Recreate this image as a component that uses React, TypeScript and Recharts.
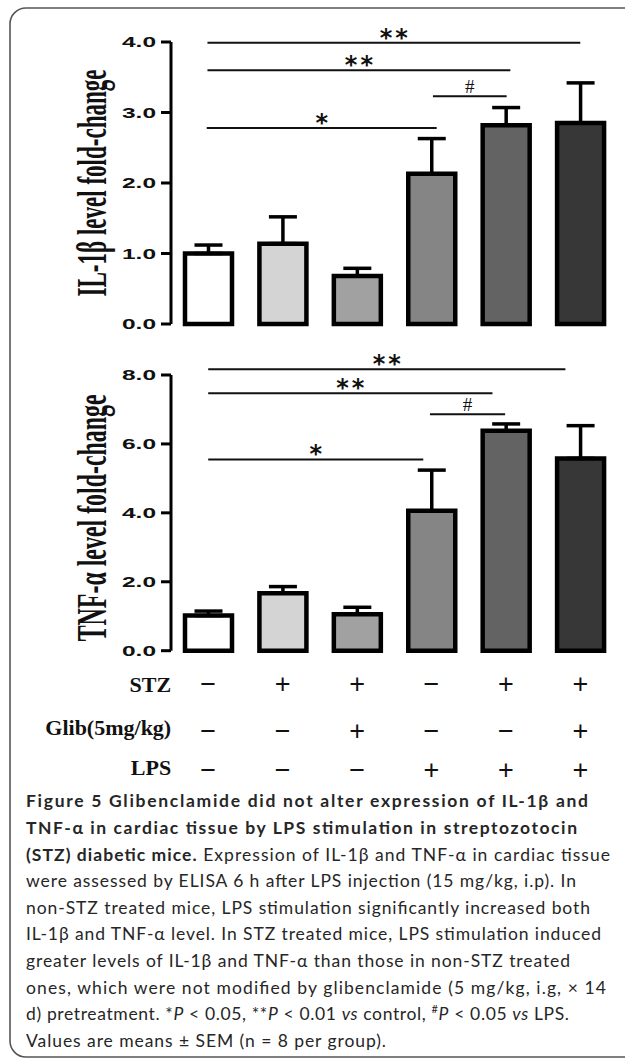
import React from 'react';
import { BarChart, Bar, XAxis, YAxis, Cell, ErrorBar, ReferenceLine } from 'recharts';

const groups = ['Control', 'STZ', 'STZ+Glib', 'LPS', 'STZ+LPS', 'STZ+Glib+LPS'];
const barColors = ['#ffffff', '#d4d4d4', '#a1a1a1', '#858585', '#636363', '#373737'];

const il1bMean = [1.0, 1.14, 0.68, 2.13, 2.82, 2.85];
const il1bSem = [0.12, 0.38, 0.11, 0.5, 0.25, 0.57];
const tnfMean = [1.02, 1.67, 1.06, 4.06, 6.38, 5.58];
const tnfSem = [0.13, 0.19, 0.2, 1.18, 0.2, 0.95];

const il1bTicks = [0, 1, 2, 3, 4];
const tnfTicks = [0, 2, 4, 6, 8];

// brackets: bar i sits at i + 0.5 on the x axis
const il1bSig = [
  { from: 0.49, to: 5.5, y: 3.99, mark: '**' },
  { from: 0.49, to: 4.56, y: 3.6, mark: '**' },
  { from: 3.52, to: 4.51, y: 3.23, mark: '#' },
  { from: 0.48, to: 3.57, y: 2.78, mark: '*' },
];
const tnfSig = [
  { from: 0.5, to: 5.3, y: 8.17, mark: '**' },
  { from: 0.5, to: 4.32, y: 7.47, mark: '**' },
  { from: 3.48, to: 4.49, y: 6.86, mark: '#' },
  { from: 0.5, to: 3.39, y: 5.55, mark: '*' },
];

const rowLabels = ['STZ', 'Glib(5mg/kg)', 'LPS'];
const stzRow = ['−', '+', '+', '−', '+', '+'];
const glibRow = ['−', '−', '+', '−', '−', '+'];
const lpsRow = ['−', '−', '−', '+', '+', '+'];

const xTicks = groups.map((_, i) => i + 0.5);
const il1bData = groups.map((g, i) => ({ group: g, pos: i + 0.5, mean: il1bMean[i], err: [0, il1bSem[i]] }));
const tnfData = groups.map((g, i) => ({ group: g, pos: i + 0.5, mean: tnfMean[i], err: [0, tnfSem[i]] }));

const YTick = ({ x, y, payload }: any) => (
  <g transform={`translate(${x},${y}) scale(1.75,1)`}>
    <text x={0} y={0} dy={5} textAnchor="end" fontFamily="'Liberation Sans', Arial" fontWeight="bold" fontSize={14} fill="#111">
      {Number(payload.value).toFixed(1)}
    </text>
  </g>
);

const AxisTitle = ({ viewBox, text, len, shift }: any) => {
  const cy = viewBox.y + viewBox.height / 2 + shift;
  return (
    <g transform={`translate(${viewBox.x + 105.5},${cy}) scale(1.8,1) rotate(-90)`}>
      <text x={0} y={0} textAnchor="middle" fontFamily="'Liberation Serif', 'Times New Roman'" fontWeight="bold" fontSize={23} fill="#111" textLength={len} lengthAdjust="spacingAndGlyphs">
        {text}
      </text>
    </g>
  );
};

const SigMark = ({ viewBox, mark }: any) => {
  const cx = viewBox.x + viewBox.width / 2;
  if (mark === '#') {
    return (
      <text x={cx} y={viewBox.y - 3} textAnchor="middle" fontFamily="'Liberation Serif'" fontSize={19} fill="#111">#</text>
    );
  }
  return (
    <text x={cx + 1.5} y={viewBox.y + 3} textAnchor="middle" fontFamily="'DejaVu Sans'" fontWeight="bold" fontSize={24} letterSpacing={3} fill="#111">
      {mark}
    </text>
  );
};

const signBase = [41.9, 89.4, 127.9];
const labelBase = [41, 84.3, 124.3];

const TableTick = ({ x, y, payload }: any) => {
  const i = Math.round(Number(payload.value) - 0.5);
  const rows = [stzRow, glibRow, lpsRow];
  return (
    <g>
      {rows.map((r, k) => (
        <text key={k} x={x} y={y + signBase[k]} textAnchor="middle" fontFamily="'Liberation Sans', Arial" fontSize={27} fill="#111">
          {r[i]}
        </text>
      ))}
      {i === 0 &&
        rowLabels.map((l, k) => (
          <text key={'l' + k} x={x - 37} y={y + labelBase[k]} textAnchor="end" fontFamily="'Liberation Serif', 'Times New Roman'" fontWeight="bold" fontSize={22} fill="#111">
            {l}
          </text>
        ))}
    </g>
  );
};

function Panel({ data, ticks, sig, title, titleLen, titleShift, height, margin, table }: any) {
  return (
    <BarChart width={625} height={height} data={data} margin={margin}>
      <XAxis
        dataKey="pos"
        type="number"
        domain={[0, 6]}
        allowDataOverflow
        ticks={xTicks}
        interval={0}
        hide={!table}
        axisLine={false}
        tickLine={false}
        tickSize={0}
        tickMargin={0}
        height={table ? 130 : 0}
        tick={<TableTick />}
      />
      <YAxis
        width={171}
        domain={[ticks[0], ticks[ticks.length - 1]]}
        ticks={ticks}
        interval={0}
        stroke="#000"
        axisLine={{ stroke: '#000', strokeWidth: 3 }}
        tickLine={{ stroke: '#000', strokeWidth: 3 }}
        tickSize={10}
        tickMargin={5}
        tick={<YTick />}
        label={<AxisTitle text={title} len={titleLen} shift={titleShift} />}
      />
      {sig.map((s: any, i: number) => (
        <ReferenceLine
          key={i}
          segment={[{ x: s.from, y: s.y }, { x: s.to, y: s.y }]}
          stroke="#111"
          strokeWidth={2}
          ifOverflow="visible"
          label={<SigMark mark={s.mark} />}
        />
      ))}
      <Bar dataKey="mean" barSize={47} stroke="#000" strokeWidth={4.5} isAnimationActive={false}>
        {data.map((d: any, i: number) => (
          <Cell key={i} fill={barColors[i]} />
        ))}
        <ErrorBar dataKey="err" width={14} strokeWidth={3.5} stroke="#000" direction="y" isAnimationActive={false} />
      </Bar>
    </BarChart>
  );
}

const capFont = "Lato, 'Open Sans', sans-serif";

export default function App() {
  const lines: any[] = [
    { w: 562, c: <tspan fontWeight={700}>Figure 5 Glibenclamide did not alter expression of IL-1β and</tspan> },
    { w: 551, c: <tspan fontWeight={700}>TNF-α in cardiac tissue by LPS stimulation in streptozotocin</tspan> },
    {
      w: 584,
      c: (
        <>
          <tspan fontWeight={700}>(STZ) diabetic mice.</tspan>
          <tspan> Expression of IL-1β and TNF-α in cardiac tissue</tspan>
        </>
      ),
    },
    { w: 550, c: <tspan>were assessed by ELISA 6 h after LPS injection (15 mg/kg, i.p). In</tspan> },
    { w: 564, c: <tspan>non-STZ treated mice, LPS stimulation significantly increased both</tspan> },
    { w: 575, c: <tspan>IL-1β and TNF-α level. In STZ treated mice, LPS stimulation induced</tspan> },
    { w: 544, c: <tspan>greater levels of IL-1β and TNF-α than those in non-STZ treated</tspan> },
    { w: 580, c: <tspan>ones, which were not modified by glibenclamide (5 mg/kg, i.g, × 14</tspan> },
    {
      w: 543,
      c: (
        <>
          <tspan>d) pretreatment. *</tspan>
          <tspan fontStyle="italic">P</tspan>
          <tspan> &lt; 0.05, **</tspan>
          <tspan fontStyle="italic">P</tspan>
          <tspan> &lt; 0.01 </tspan>
          <tspan fontStyle="italic">vs</tspan>
          <tspan> control, </tspan>
          <tspan fontSize={11} dy={-7}>#</tspan>
          <tspan fontStyle="italic" dy={7}>P</tspan>
          <tspan> &lt; 0.05 </tspan>
          <tspan fontStyle="italic">vs</tspan>
          <tspan> LPS.</tspan>
        </>
      ),
    },
    { w: 360, c: <tspan>Values are means ± SEM (n = 8 per group).</tspan> },
  ];

  return (
    <div style={{ position: 'absolute', left: 0, top: 0, width: 625, height: 1060, background: '#fff', overflow: 'hidden' }}>
      <svg width={625} height={1060} style={{ position: 'absolute', left: 0, top: 0 }}>
        <rect x={10} y={8} width={660} height={1049} rx={16} fill="none" stroke="#555" strokeWidth={1.6} />
        {lines.map((l, i) => (
          <text key={i} x={26} y={807.3 + i * 26.6} fontFamily={capFont} fontSize={17.5} fill="#262626" textLength={l.w} lengthAdjust="spacing">
            {l.c}
          </text>
        ))}
      </svg>
      <div style={{ position: 'absolute', left: 0, top: 0 }}>
        <Panel
          data={il1bData}
          ticks={il1bTicks}
          sig={il1bSig}
          title="IL-1β level fold-change"
          titleLen={227}
          titleShift={0}
          height={340}
          margin={{ top: 42, right: 7.5, bottom: 16, left: 0 }}
          table={false}
        />
      </div>
      <div style={{ position: 'absolute', left: 0, top: 340 }}>
        <Panel
          data={tnfData}
          ticks={tnfTicks}
          sig={tnfSig}
          title="TNF-α level fold-change"
          titleLen={247}
          titleShift={5}
          height={445}
          margin={{ top: 35, right: 7.5, bottom: 4.3, left: 0 }}
          table={true}
        />
      </div>
    </div>
  );
}
